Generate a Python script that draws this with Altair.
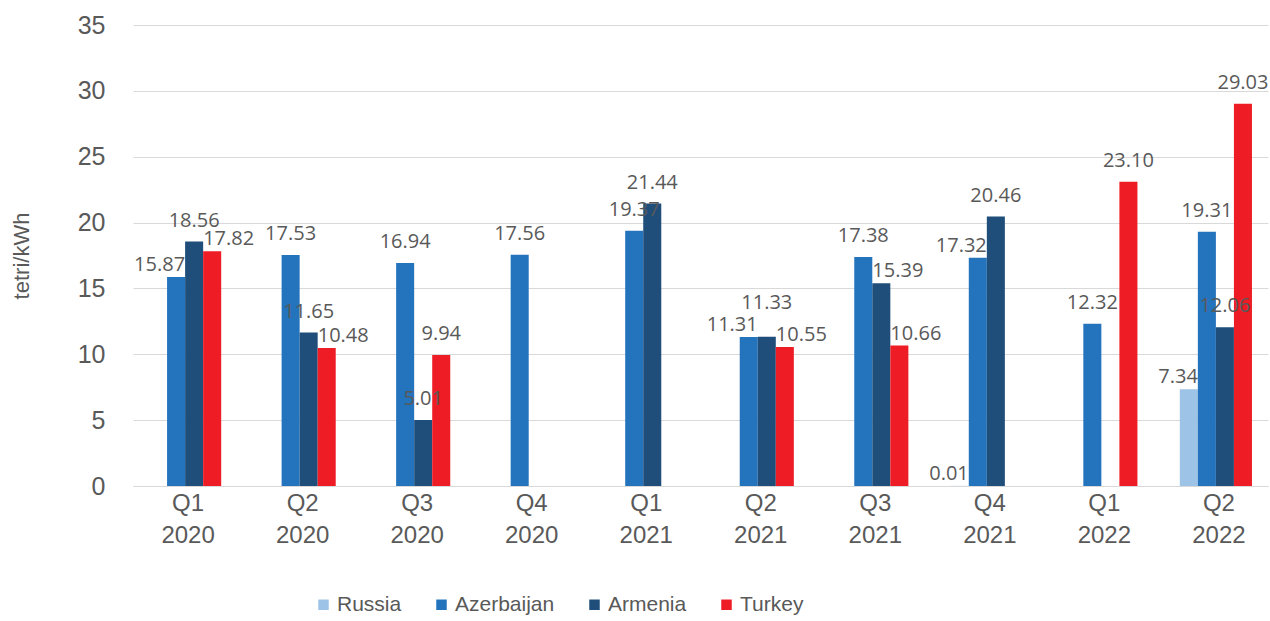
import altair as alt
import pandas as pd

quarters = ["Q1 2020", "Q2 2020", "Q3 2020", "Q4 2020", "Q1 2021",
            "Q2 2021", "Q3 2021", "Q4 2021", "Q1 2022", "Q2 2022"]
series = ["Russia", "Azerbaijan", "Armenia", "Turkey"]
russia = [None, None, None, None, None, None, None, 0.01, None, 7.34]
azerbaijan = [15.87, 17.53, 16.94, 17.56, 19.37, 11.31, 17.38, 17.32, 12.32, 19.31]
armenia = [18.56, 11.65, 5.01, None, 21.44, 11.33, 15.39, 20.46, None, 12.06]
turkey = [17.82, 10.48, 9.94, None, None, 10.55, 10.66, None, 23.10, 29.03]
colors = ["#9DC3E6", "#2473BD", "#1F4E7A", "#EE1C25"]

# label placement (like the spreadsheet's nudged data labels)
label_place = {
    ("Q1 2020", "Azerbaijan"): "right",
    ("Q1 2020", "Turkey"): "left",
    ("Q2 2020", "Turkey"): "left",
    ("Q2 2021", "Azerbaijan"): "right",
    ("Q2 2021", "Armenia"): "up",
    ("Q2 2021", "Turkey"): "left",
    ("Q3 2021", "Armenia"): "left",
    ("Q3 2021", "Turkey"): "left",
    ("Q4 2021", "Russia"): "right",
    ("Q4 2021", "Azerbaijan"): "right",
    ("Q2 2022", "Russia"): "right",
}

rows = []
for name, vals in zip(series, [russia, azerbaijan, armenia, turkey]):
    for q, v in zip(quarters, vals):
        if v is not None:
            rows.append({"quarter": q, "country": name, "value": v,
                         "label": f"{v:.2f}",
                         "place": label_place.get((q, name), "center")})
df = pd.DataFrame(rows)

x = alt.X("quarter:N", sort=quarters, title=None,
          scale=alt.Scale(paddingInner=0.37, paddingOuter=0.14),
          axis=alt.Axis(labelExpr="split(datum.label, ' ')", labelAngle=0,
                        labelFont="Liberation Sans", labelFontSize=24,
                        labelColor="#595959", labelPadding=5, labelLineHeight=32,
                        labelOffset=3,
                        domain=True, domainColor="#D9D9D9", ticks=False, grid=False))
xo = alt.XOffset("country:N", sort=series, scale=alt.Scale(domain=series))
y = alt.Y("value:Q", title="tetri/kWh",
          scale=alt.Scale(domain=[0, 35], nice=False),
          axis=alt.Axis(values=[0, 5, 10, 15, 20, 25, 30, 35], domain=False, ticks=False,
                        gridColor="#D9D9D9", labelFont="Liberation Sans",
                        labelFontSize=25, labelColor="#595959", labelPadding=28,
                        titleFont="Liberation Sans", titleFontSize=22,
                        titleColor="#595959", titleFontWeight="normal",
                        titlePadding=44))

bars = alt.Chart(df).mark_bar().encode(
    x=x, xOffset=xo, y=y,
    color=alt.Color("country:N", sort=series,
                    scale=alt.Scale(domain=series, range=colors),
                    legend=alt.Legend(title=None, orient="none", direction="horizontal",
                                      legendX=180, legendY=569, symbolType="square",
                                      symbolSize=110, symbolStrokeWidth=0,
                                      labelFont="Liberation Sans",
                                      labelFontSize=21,
                                      labelColor="#595959", columnPadding=29,
                                      labelOffset=3))
)


def labels(place, align, dx, dy):
    return alt.Chart(df).transform_filter(
        alt.datum.place == place
    ).mark_text(dx=dx, dy=dy, align=align, baseline="alphabetic", fontSize=20,
                font="Open Sans", color="#595959").encode(
        x=x, xOffset=xo, y=y, text="label:N"
    )


text = alt.layer(
    labels("center", "center", 0, -15),
    labels("left", "left", -9, -6),
    labels("right", "right", 9, -6),
    labels("up", "center", 0, -28),
)

chart = (bars + text).properties(
    width=1135, height=461,
    background="white",
    autosize=alt.AutoSizeParams(type="none"),
    padding={"left": 133, "top": 25, "right": 2, "bottom": 135},
).configure_view(stroke=None, strokeWidth=0)

chart.save("out.html", embed_options={"renderer": "svg", "actions": False})
